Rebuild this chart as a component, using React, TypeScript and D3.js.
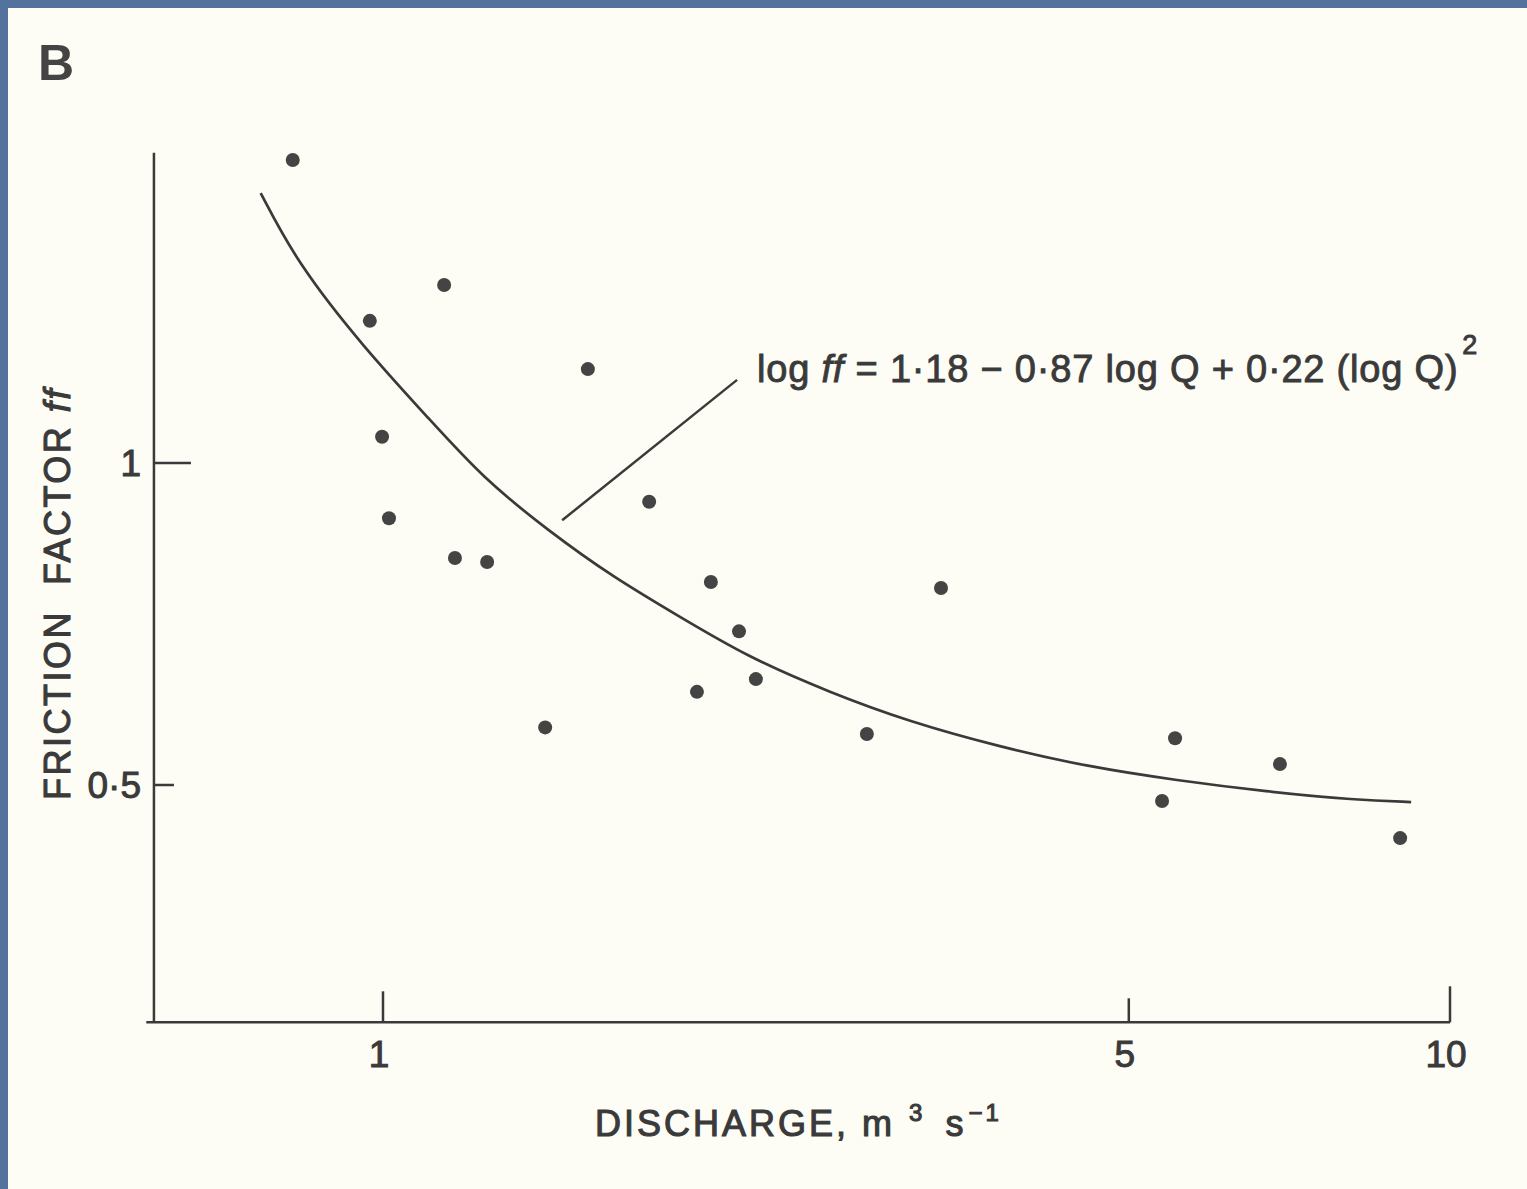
import * as d3 from "d3";

// observed discharge (m3/s) and friction factor
const discharge = [
  0.823, 1.141, 0.972, 1.556, 0.998, 1.013, 1.168, 1.252, 1.776, 2.029,
  2.156, 1.969, 2.236, 1.419, 2.841, 3.334, 5.525, 5.372, 6.928, 8.98,
];
const friction = [
  1.92, 1.467, 1.358, 1.224, 1.058, 0.888, 0.815, 0.808, 0.92, 0.774,
  0.696, 0.611, 0.628, 0.566, 0.558, 0.764, 0.553, 0.483, 0.523, 0.446,
];

// fitted curve
const curveQ = [
  0.768, 0.831, 0.958, 1.107, 1.241, 1.425, 1.643, 1.898, 2.194, 2.624,
  3.112, 3.779, 4.578, 5.548, 6.722, 8.166, 9.195,
];
const curveF = [
  1.788, 1.538, 1.284, 1.097, 0.968, 0.866, 0.782, 0.718, 0.659, 0.61,
  0.573, 0.543, 0.52, 0.505, 0.493, 0.484, 0.482,
];

const xTicks = [1, 5, 10];
const xTickLabels = ["1", "5", "10"];
const yTicks = [1, 0.5];
const yTickLabels = ["1", "0·5"];

// leader from curve to the equation
const leaderQ = [1.472, 2.147];
const leaderF = [0.884, 1.196];

const xExtent = [0.6, 10];
const yExtent = [0.3, 1.95];

const W = 1527;
const H = 1189;
const INK = "#3a3a3a";
const FONT = "'Liberation Sans', Arial, sans-serif";

export default function App() {
  const x = d3.scaleLog().domain([1, 10]).range([383, 1450]);
  const y = d3.scaleLog().domain([0.5, 1]).range([785, 463]);

  const pts = discharge.map((q, i) => ({ q, f: friction[i] }));
  const curve = curveQ.map((q, i) => [q, curveF[i]] as [number, number]);
  const line = d3
    .line<[number, number]>()
    .x((d) => x(d[0]))
    .y((d) => y(d[1]))
    .curve(d3.curveBasis);

  const axisY = y(yExtent[0]);
  const axisX = x(0.61);
  const xTickLen: Record<number, number> = { 1: 31, 5: 24, 10: 36 };
  const yTickLen: Record<number, number> = { 1: 37, 0.5: 20 };

  return (
    <svg
      width={W}
      height={H}
      style={{ position: "absolute", left: 0, top: 0 }}
    >
      <rect width={W} height={H} fill="#54739c" />
      <rect x={8} y={8} width={W - 8} height={H - 8} fill="#fdfdf5" />

      <text
        x={38}
        y={80}
        fontFamily={FONT}
        fontWeight="bold"
        fontSize={50}
        fill="#444"
      >
        B
      </text>

      {/* axes */}
      <g stroke={INK} strokeWidth={2.5} fill="none">
        <line x1={x(xExtent[0])} x2={x(xExtent[1])} y1={axisY} y2={axisY} />
        <line x1={axisX} x2={axisX} y1={axisY} y2={y(yExtent[1])} />
        {xTicks.map((t) => (
          <line
            key={"xt" + t}
            x1={x(t)}
            x2={x(t)}
            y1={axisY}
            y2={axisY - xTickLen[t]}
          />
        ))}
        {yTicks.map((t) => (
          <line
            key={"yt" + t}
            x1={axisX}
            x2={axisX + yTickLen[t]}
            y1={y(t)}
            y2={y(t)}
          />
        ))}
      </g>

      <g
        fontFamily={FONT}
        fontSize={37}
        fill={INK}
        stroke={INK}
        strokeWidth={1}
      >
        {xTicks.map((t, i) => (
          <text key={"xl" + t} x={x(t) - 4} y={1067} textAnchor="middle">
            {xTickLabels[i]}
          </text>
        ))}
        {yTicks.map((t, i) => (
          <text
            key={"yl" + t}
            x={141}
            y={y(t) + 13}
            textAnchor="end"
          >
            {yTickLabels[i]}
          </text>
        ))}
      </g>

      {/* axis titles */}
      <text
        x={595}
        y={1136}
        fontFamily={FONT}
        fontSize={36}
        letterSpacing={3}
        fill={INK}
        stroke={INK}
        strokeWidth={1.1}
      >
        DISCHARGE, m
        <tspan dx={14} dy={-15} fontSize={24}>
          3
        </tspan>
        <tspan dx={20} dy={15}>
          s
        </tspan>
        <tspan dx={2} dy={-15} fontSize={24}>
          −1
        </tspan>
      </text>
      <text
        transform="translate(70,800) rotate(-90)"
        fontFamily={FONT}
        fontSize={36}
        letterSpacing={2.5}
        fill={INK}
        stroke={INK}
        strokeWidth={1.1}
      >
        FRICTION{"\u00a0\u00a0"}FACTOR{" "}
        <tspan fontStyle="italic">ff</tspan>
      </text>

      {/* fitted curve */}
      <path d={line(curve) ?? ""} fill="none" stroke={INK} strokeWidth={2.7} />
      <line
        x1={x(leaderQ[0])}
        y1={y(leaderF[0])}
        x2={x(leaderQ[1])}
        y2={y(leaderF[1])}
        stroke={INK}
        strokeWidth={2.5}
      />
      <text
        x={757}
        y={382}
        fontFamily={FONT}
        fontSize={38}
        letterSpacing={0.8}
        fill={INK}
        stroke={INK}
        strokeWidth={0.9}
      >
        log <tspan fontStyle="italic">ff</tspan> = 1·18 − 0·87 log Q + 0·22
        (log Q)
        <tspan dx={4} dy={-28} fontSize={27}>
          2
        </tspan>
      </text>

      {/* observations */}
      {pts.map((p, i) => (
        <circle key={i} cx={x(p.q)} cy={y(p.f)} r={7} fill="#444" />
      ))}
    </svg>
  );
}
